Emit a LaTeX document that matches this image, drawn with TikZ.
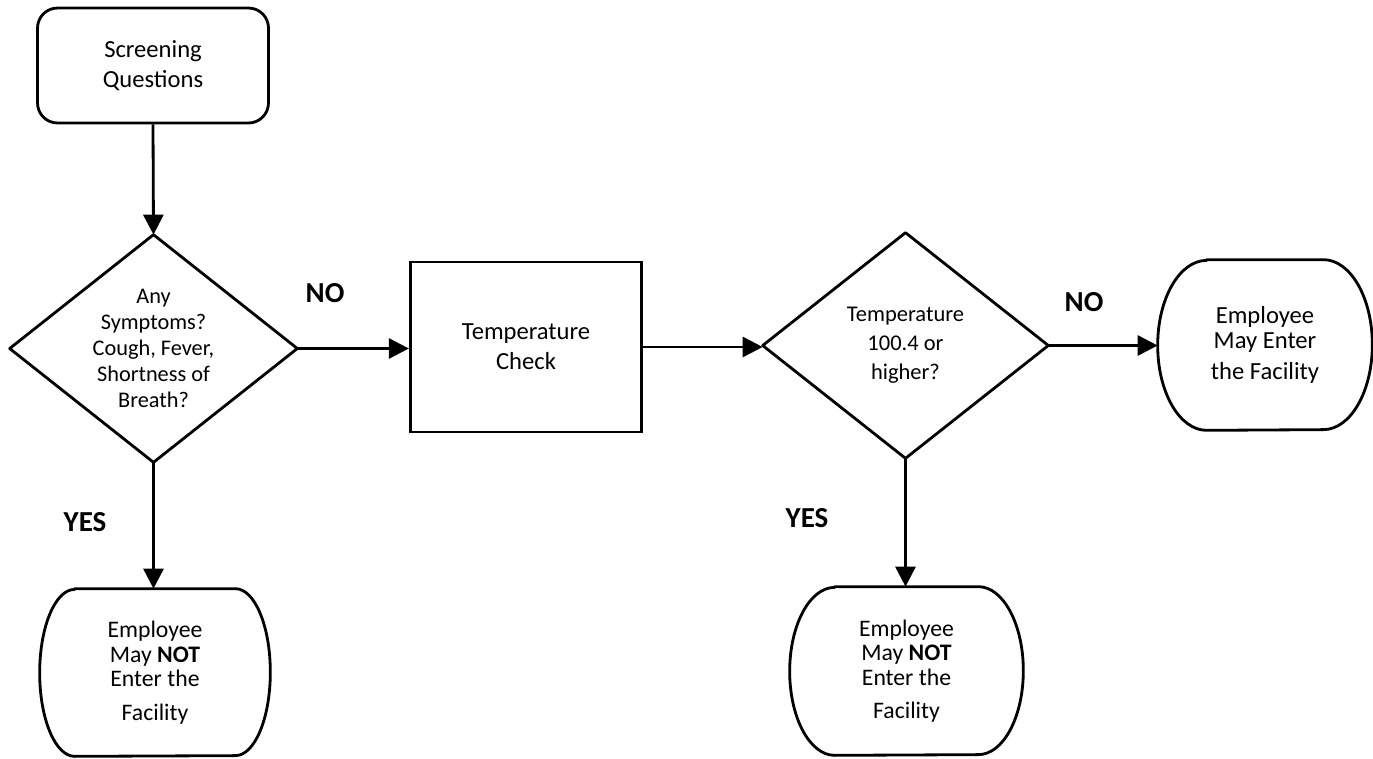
\documentclass[tikz,border=0pt]{standalone}
\usepackage{fontspec}
\setmainfont{Carlito}
\usetikzlibrary{arrows.meta}
\newcommand\termoutline[3]{% name, rx, half height
  \draw[shapeline] ([xshift=#2]#1.north west) -- ([xshift=-#2]#1.north east)
    arc[start angle=90,end angle=-90,x radius=#2,y radius=#3]
    -- ([xshift=#2]#1.south west)
    arc[start angle=270,end angle=90,x radius=#2,y radius=#3] -- cycle;}
\newcommand\diamondoutline[1]{%
  \draw[shapeline] (#1.north) -- (#1.east) -- (#1.south) -- (#1.west) -- cycle;}
\begin{document}
\begin{tikzpicture}[x=0.02cm,y=-0.02cm,
  shapeline/.style={line width=1.6pt,line join=round},
  box/.style={draw,line width=1.6pt,inner sep=0pt,align=center},
  holder/.style={inner sep=0pt,align=center},
  conn/.style={line width=1.6pt,-{Triangle[length=0.4cm,width=0.4cm]}},
  lab/.style={font=\bfseries\fontsize{16.5}{19}\selectfont},
  txtbig/.style={font=\fontsize{14}{17}\selectfont},
  txtsmall/.style={font=\fontsize{12.7}{14.8}\selectfont}]
\useasboundingbox[fill=white] (0,0) rectangle (1373,758);

\node[box,rounded corners=0.4cm,minimum width=4.62cm,minimum height=2.3cm,txtbig]
  (sq) at (153,65.5) {Screening\\Questions};

\node[holder,minimum width=5.74cm,minimum height=4.54cm,txtsmall]
  (d1) at (153.5,348.5) {Any\\Symptoms?\\Cough, Fever,\\Shortness of\\Breath?};
\diamondoutline{d1}

\node[box,minimum width=4.63cm,minimum height=3.4cm,txtbig]
  (tc) at (526,347) {Temperature\\Check};

\node[holder,minimum width=5.7cm,minimum height=4.5cm,font=\fontsize{12.8}{16.5}\selectfont]
  (d2) at (905.5,345.5) {Temperature\\100.4 or\\higher?};
\diamondoutline{d2}

\node[holder,minimum width=4.28cm,minimum height=3.4cm,font=\fontsize{14}{14.5}\selectfont]
  (t3) at (1265,345) {Employee\\May Enter\\[3pt]the Facility};
\termoutline{t3}{0.98cm}{1.7cm}

\node[holder,minimum width=4.6cm,minimum height=3.34cm,font=\fontsize{13.5}{14}\selectfont]
  (t1) at (155,672.5) {Employee\\May \textbf{NOT}\\Enter the\\[5pt]Facility};
\termoutline{t1}{0.7cm}{1.67cm}

\node[holder,minimum width=4.66cm,minimum height=3.36cm,font=\fontsize{13.5}{14}\selectfont]
  (t2) at (906.5,671) {Employee\\May \textbf{NOT}\\Enter the\\[5pt]Facility};
\termoutline{t2}{0.9cm}{1.68cm}

\draw[conn] (sq.south) -- (d1.north);
\draw[conn] (d1.east) -- (d1.east -| tc.west);
\draw[conn] (tc.east) -- (tc.east -| d2.west);
\draw[conn] (d2.east) -- (d2.east -| t3.west);
\draw[conn] (d1.south) -- (d1.south |- t1.north);
\draw[conn] (d2.south) -- (d2.south |- t2.north);

\node[lab] (no1) at (325,293) {NO};
\node[lab] (no2) at (1084,302) {NO};
\node[lab] (yes1) at (85,522) {YES};
\node[lab] (yes2) at (807,518) {YES};
\end{tikzpicture}
\end{document}
